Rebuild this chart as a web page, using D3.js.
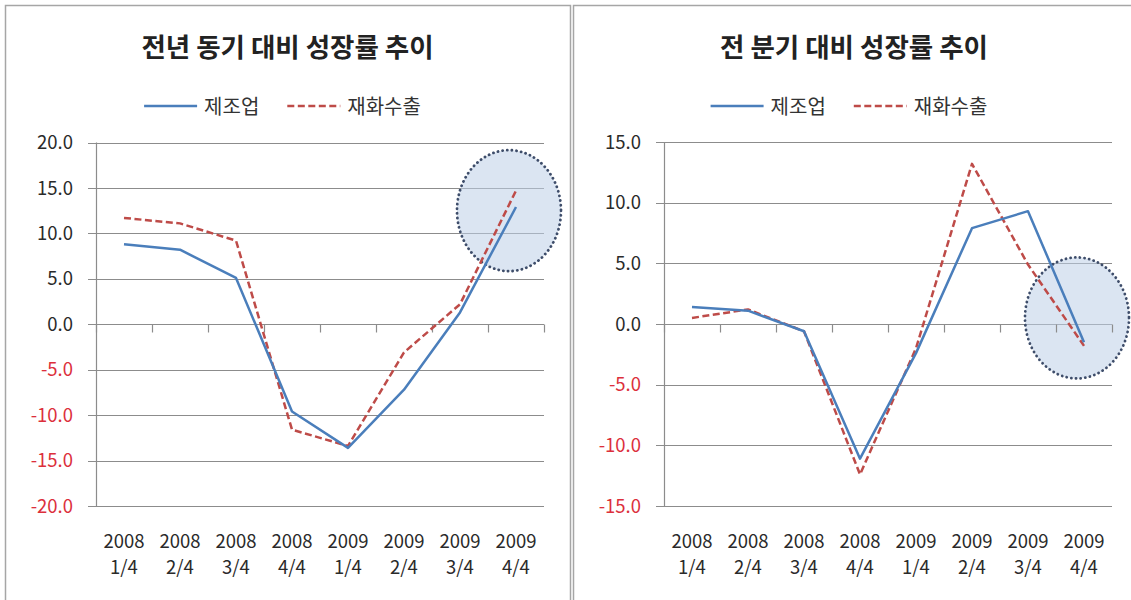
<!DOCTYPE html>
<html>
<head>
<meta charset="utf-8">
<script src="https://cdn.jsdelivr.net/npm/d3@7"></script>
<style>
  html, body { margin: 0; padding: 0; background: #fff; }
  svg { display: block; font-family: "Noto Sans CJK KR", "Noto Sans", sans-serif; }
</style>
</head>
<body>
<svg id="chart" width="1131" height="600"></svg>
<script>
// ---- data ----
const categories = ["2008 1/4", "2008 2/4", "2008 3/4", "2008 4/4", "2009 1/4", "2009 2/4", "2009 3/4", "2009 4/4"];
const seriesNames = ["제조업", "재화수출"];
const titles = ["전년 동기 대비 성장률 추이", "전 분기 대비 성장률 추이"];

// 전년 동기 대비 (year over year)
const yoyManufacturing = [8.8, 8.2, 5.1, -9.6, -13.6, -7.2, 1.3, 12.9];
const yoyExports       = [11.7, 11.1, 9.2, -11.6, -13.4, -3.1, 2.2, 14.7];
const yoyTicks = [-20, -15, -10, -5, 0, 5, 10, 15, 20];

// 전 분기 대비 (quarter over quarter)
const qoqManufacturing = [1.4, 1.1, -0.6, -11.1, -2.4, 7.9, 9.3, -1.5];
const qoqExports       = [0.5, 1.2, -0.6, -12.4, -2.0, 13.2, 4.9, -1.8];
const qoqTicks = [-15, -10, -5, 0, 5, 10, 15];

// highlighted region (dotted ellipse) per panel
const highlightCategory = ["2009 4/4", "2009 4/4"];
const highlightValue = [12.5, 0.5];

// ---- drawing ----
const svg = d3.select("#chart");
svg.append("rect").attr("width", 1131).attr("height", 600).attr("fill", "#fff");

const fmt = d3.formatLocale({decimal: ".", thousands: ",", grouping: [3], currency: ["", ""], minus: "-"}).format(".1f");

const BLUE = "#4a7ebb", RED = "#be4b48", GRID = "#8c8c8c";

const panels = [
  { px0: 5, px1: 570, x0: 96, x1: 544, yTop: 142.5, yBot: 506, ticks: yoyTicks,
    series: [yoyManufacturing, yoyExports], title: titles[0], hl: 0 },
  { px0: 573, px1: 1135, x0: 664, x1: 1112, yTop: 142, yBot: 506, ticks: qoqTicks,
    series: [qoqManufacturing, qoqExports], title: titles[1], hl: 1 }
];

panels.forEach(p => {
  const g = svg.append("g");
  // panel frame
  g.append("rect").attr("x", p.px0 + 0.5).attr("y", 5.5)
    .attr("width", p.px1 - p.px0).attr("height", 620)
    .attr("fill", "#fff").attr("stroke", "#a6a6a6").attr("stroke-width", 1.5);

  const x = d3.scaleBand().domain(categories).range([p.x0, p.x1]).padding(0);
  const y = d3.scaleLinear().domain([d3.min(p.ticks), d3.max(p.ticks)]).range([p.yBot, p.yTop]);
  const cx = c => x(c) + x.bandwidth() / 2;

  // title
  const mid = (p.px0 + p.px1) / 2;
  g.append("text").attr("x", mid).attr("y", 57).attr("text-anchor", "middle")
    .attr("font-size", 26.5).attr("font-weight", "bold").attr("fill", "#222").text(p.title);

  // legend
  const lg = g.append("g");
  let lx = 0;
  seriesNames.forEach((name, i) => {
    const it = lg.append("g").attr("transform", `translate(${lx},0)`);
    it.append("line").attr("x1", 0).attr("x2", 53).attr("y1", 0).attr("y2", 0)
      .attr("stroke", i === 0 ? BLUE : RED).attr("stroke-width", 2.5)
      .attr("stroke-dasharray", i === 0 ? null : "7,3.5");
    const t = it.append("text").attr("x", 60).attr("y", 0).attr("dy", "0.38em")
      .attr("font-size", 20).attr("fill", "#333").text(name);
    lx += 60 + t.node().getComputedTextLength() + 28;
  });
  const lw = lx - 28;
  lg.attr("transform", `translate(${mid - lw / 2 - 5},106)`);

  // gridlines
  g.append("g").selectAll("line").data(p.ticks).join("line")
    .attr("x1", p.x0 - 8).attr("x2", p.x1).attr("y1", d => Math.round(y(d)) + 0.5).attr("y2", d => Math.round(y(d)) + 0.5)
    .attr("stroke", GRID).attr("stroke-width", 1.2);

  // y axis labels
  g.append("g").selectAll("text").data(p.ticks).join("text")
    .attr("x", p.x0 - 23).attr("y", d => y(d)).attr("dy", "0.36em").attr("text-anchor", "end")
    .attr("font-size", 18.5).attr("fill", d => d < 0 ? "#dc2f3c" : "#2a2a2a").text(d => fmt(d));

  // highlight ellipse
  const hc = highlightCategory[p.hl];
  g.append("ellipse").attr("cx", cx(hc) - 7).attr("cy", y(highlightValue[p.hl]))
    .attr("rx", 52).attr("ry", 60.5)
    .attr("fill", "rgba(190,208,232,0.55)").attr("stroke", "#3e4d6a")
    .attr("stroke-width", 2.8).attr("stroke-dasharray", "0.1,4.6").attr("stroke-linecap", "round");

  // y axis line
  g.append("line").attr("x1", p.x0 + 0.5).attr("x2", p.x0 + 0.5).attr("y1", y(d3.max(p.ticks))).attr("y2", y(d3.min(p.ticks)))
    .attr("stroke", GRID).attr("stroke-width", 1.2);

  // category axis at zero with ticks at band boundaries
  const y0 = Math.round(y(0)) + 0.5;
  const bounds = categories.map(c => x(c)).concat([p.x1]);
  g.append("g").selectAll("line").data(bounds).join("line")
    .attr("x1", d => Math.round(d) + 0.5).attr("x2", d => Math.round(d) + 0.5)
    .attr("y1", y0).attr("y2", y0 + 8).attr("stroke", GRID).attr("stroke-width", 1.2);

  // category labels
  const xl = g.append("g").selectAll("text").data(categories).join("text")
    .attr("text-anchor", "middle").attr("font-size", 18.5).attr("fill", "#2a2a2a");
  xl.append("tspan").attr("x", d => cx(d)).attr("y", 548).text(d => d.split(" ")[0]);
  xl.append("tspan").attr("x", d => cx(d)).attr("y", 574).text(d => d.split(" ")[1]);

  // series lines
  const line = d3.line().x((d, i) => cx(categories[i])).y(d => y(d));
  [1, 0].forEach(si => {
    g.append("path").datum(p.series[si]).attr("d", line).attr("fill", "none")
      .attr("stroke", si === 0 ? BLUE : RED).attr("stroke-width", 2.5)
      .attr("stroke-linejoin", "round")
      .attr("stroke-dasharray", si === 0 ? null : "7,3.5");
  });
});
</script>
</body>
</html>
